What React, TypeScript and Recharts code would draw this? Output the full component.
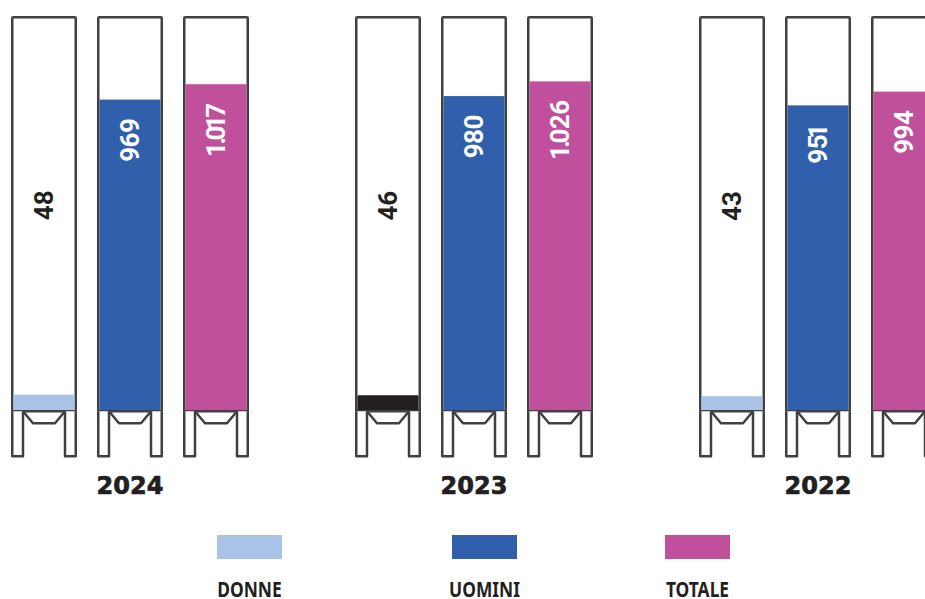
import React from 'react';
import { BarChart, Bar, XAxis, YAxis, Cell, LabelList, Legend } from 'recharts';

const years = ['2024', '2023', '2022'];
const donne = [48, 46, 43];
const uomini = [969, 980, 951];
const totale = [1017, 1026, 994];
const seriesNames = ['DONNE', 'UOMINI', 'TOTALE'];

const data = years.map((y, i) => ({ year: y, donne: donne[i], uomini: uomini[i], totale: totale[i] }));

const LIGHT = '#a9c3e6';
const BLUE = '#305fab';
const MAGENTA = '#c0509c';
const DARK = '#231f20';
const OUTLINE = '#404040';
const donneFills = [LIGHT, DARK, LIGHT];
const legendColors = [LIGHT, BLUE, MAGENTA];
const legendLefts = [259, 494, 707];

const PLOT_TOP = 16;
const LABEL_FONT = "Roboto, 'DejaVu Sans', sans-serif";

const fmt = (v: number) => String(v).replace(/\B(?=(\d{3})+(?!\d))/g, '.');

// emulate proportional figures (narrow "1" and ".")
const glyphs = (s: string) =>
  s.split('').map((ch, i, arr) => {
    const prev = i > 0 ? arr[i - 1] : '';
    let dx = 0;
    if (i > 0 && ch === '1') dx -= 4;
    if (prev === '1') dx -= 2;
    if (prev === '.') dx -= 3;
    return (
      <tspan key={i} dx={dx || undefined}>
        {ch}
      </tspan>
    );
  });

const Container = (props: any) => {
  const { x, y, width: w, height: h } = props;
  const s = 2.5;
  const hs = s / 2;
  const base = y + h + hs;
  const legW = 12;
  const legH = 45;
  const hopper = 12;
  return (
    <g fill="none" stroke={OUTLINE} strokeWidth={s} strokeLinejoin="round">
      <rect x={x + hs} y={y + hs} width={w - s} height={h} fill="#fff" rx={1} />
      <path d={`M${x + hs},${base} V${base + legH} H${x + legW} V${base}`} fill="#fff" />
      <path d={`M${x + w - hs},${base} V${base + legH} H${x + w - legW} V${base}`} fill="#fff" />
      <path d={`M${x + legW},${base} L${x + 22},${base + hopper} H${x + w - 22} L${x + w - legW},${base}`} />
    </g>
  );
};

const FillShape = (props: any) => {
  const { x, y, width, height, fill } = props;
  if (!height || height <= 0) return null;
  return <rect x={x + 2.5} y={y} width={width - 5} height={height} fill={fill} />;
};

const donneLabel = (props: any) => {
  const { x, y, width, value } = props;
  const cx = Number(x) + Number(width) / 2;
  const cy = (PLOT_TOP + Number(y)) / 2;
  return (
    <text
      x={cx}
      y={cy}
      transform={`rotate(-90 ${cx} ${cy})`}
      textAnchor="middle"
      dominantBaseline="central"
      fill={DARK}
      fontFamily={LABEL_FONT}
      fontWeight="bold"
      fontSize={26}
    >
      {glyphs(fmt(Number(value)))}
    </text>
  );
};

const innerLabel = (props: any) => {
  const { x, y, width, value } = props;
  const cx = Number(x) + Number(width) / 2;
  const ty = Number(y) + 19;
  return (
    <text
      x={cx}
      y={ty}
      transform={`rotate(-90 ${cx} ${ty})`}
      textAnchor="end"
      dominantBaseline="central"
      fill="#fff"
      fontFamily={LABEL_FONT}
      fontWeight="bold"
      fontSize={26}
      letterSpacing={-0.5}
    >
      {glyphs(fmt(Number(value)))}
    </text>
  );
};

const YearTick = (props: any) => {
  const { x, y, payload } = props;
  return (
    <text
      x={x}
      y={y + 84}
      textAnchor="middle"
      fill={DARK}
      stroke={DARK}
      strokeWidth={0.7}
      fontFamily="'DejaVu Sans', sans-serif"
      fontWeight="bold"
      fontSize={24}
    >
      {payload.value}
    </text>
  );
};

const renderLegend = () => (
  <div style={{ position: 'relative', width: '100%', height: 72 }}>
    {seriesNames.map((n, i) => (
      <div key={n} style={{ position: 'absolute', left: legendLefts[i], top: 0, width: 65, height: 72 }}>
        <div style={{ position: 'absolute', left: 0, top: 8, width: 65, height: 24, background: legendColors[i] }} />
        <div
          style={{
            position: 'absolute',
            left: -20,
            width: 105,
            top: 52.5,
            height: 16,
            textAlign: 'center',
            whiteSpace: 'nowrap',
            fontFamily: "'Noto Sans', sans-serif",
            fontWeight: 'bold',
            fontSize: 22,
            lineHeight: '16px',
            color: DARK,
            transform: 'scaleX(0.79)',
            transformOrigin: '50% 50%',
          }}
        >
          {n}
        </div>
      </div>
    ))}
  </div>
);

export default function App() {
  return (
    <div style={{ position: 'fixed', left: 0, top: 0, width: 925, height: 599, overflow: 'hidden', background: '#fff' }}>
      <div style={{ position: 'absolute', left: -42, top: 0 }}>
        <BarChart
          width={1032}
          height={599}
          data={data}
          margin={{ top: PLOT_TOP, right: 0, bottom: 0, left: 0 }}
          barSize={66}
          barGap={20}
        >
          <XAxis
            dataKey="year"
            axisLine={false}
            tickLine={false}
            tickSize={0}
            tickMargin={0}
            height={117}
            tick={<YearTick />}
            interval={0}
          />
          <YAxis hide domain={[0, 1230]} />
          <Legend
            verticalAlign="bottom"
            height={72}
            content={renderLegend}
            wrapperStyle={{ left: 0, bottom: 0, width: 1032 }}
          />
          <Bar dataKey="donne" name="DONNE" background={Container} shape={FillShape} isAnimationActive={false}>
            {donneFills.map((c, i) => (
              <Cell key={`d${i}`} fill={c} />
            ))}
            <LabelList dataKey="donne" content={donneLabel} />
          </Bar>
          <Bar dataKey="uomini" name="UOMINI" fill={BLUE} background={Container} shape={FillShape} isAnimationActive={false}>
            <LabelList dataKey="uomini" content={innerLabel} />
          </Bar>
          <Bar dataKey="totale" name="TOTALE" fill={MAGENTA} background={Container} shape={FillShape} isAnimationActive={false}>
            <LabelList dataKey="totale" content={innerLabel} />
          </Bar>
        </BarChart>
      </div>
    </div>
  );
}
